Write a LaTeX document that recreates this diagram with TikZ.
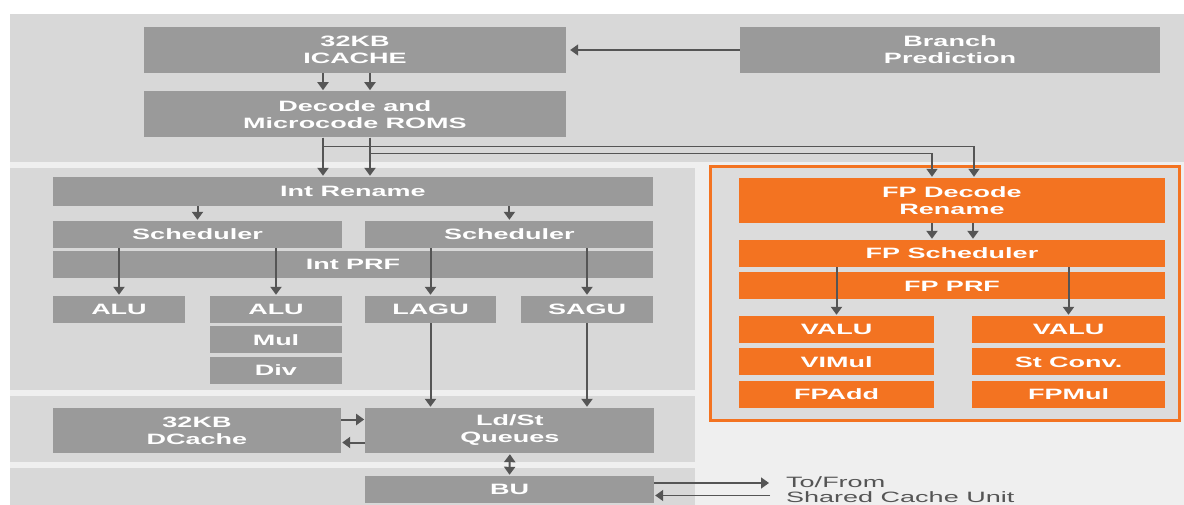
\documentclass[tikz,border=0pt]{standalone}
\usepackage{fontspec}
\setmainfont{Liberation Sans}[FakeStretch=1.8]
\usepackage{tikz}
\usetikzlibrary{%
  positioning
 ,arrows.meta
}
\definecolor{bandgray}{RGB}{216,216,216}
\definecolor{sepgray}{RGB}{239,239,239}
\definecolor{blkgray}{RGB}{154,154,154}
\definecolor{fporange}{RGB}{243,115,33}
\definecolor{wiregray}{RGB}{85,85,85}
\tikzstyle{core}=[x=1pt,y=-1pt,node distance=3pt,>={Triangle[length=8pt,width=11pt]},
  font=\bfseries\fontsize{15}{17}\selectfont]
\tikzstyle{blk}=[rectangle,fill=blkgray,text=white,align=center,inner sep=0pt,minimum height=27pt]
\tikzstyle{tall}=[minimum height=46pt]
\tikzstyle{fpblk}=[blk,fill=fporange]
\tikzstyle{conn}=[color=wiregray,line width=2pt,->,shorten >=1pt]
\tikzstyle{thin}=[line width=1.5pt]

\begin{document}
\begin{tikzpicture}[core]
  \useasboundingbox (0,0) rectangle (1184,505);
  % bands behind the blocks
  \fill[sepgray]  (10,14)  rectangle (1184,505);
  \fill[bandgray] (10,14)  rectangle (1184,162);
  \fill[bandgray] (10,168) rectangle (695,390);
  \fill[bandgray] (10,396) rectangle (695,462);
  \fill[bandgray] (10,468) rectangle (695,505);
  \filldraw[fill=bandgray!90!white,draw=fporange,line width=3pt] (710,167) rectangle (1179,420);
% front end
  \node[blk,tall,minimum width=422pt] (icache) at (355,50) {32KB\\ICACHE};
  \node[blk,tall,minimum width=420pt] (bp)     at (950,50) {Branch\\Prediction};
  \node[blk,tall,minimum width=422pt] (dec)    [below=18pt of icache] {Decode and\\Microcode ROMS};
% integer side
  \node[blk,minimum height=29pt,minimum width=600pt] (irn) at (353,191.5) {Int Rename};
  \node[blk,minimum width=289pt] (sch_1) at (197.5,234.5)    {Scheduler};
  \node[blk,minimum width=288pt] (sch_2) [right=23pt of sch_1] {Scheduler};
  \node[blk,minimum width=600pt] (iprf)  at (353,264.5)      {Int PRF};
  \node[blk,minimum width=132pt] (alu_1) at (119,309.5)      {ALU};
  \node[blk,minimum width=132pt] (alu_2) at (276,309.5)      {ALU};
  \node[blk,minimum width=131pt] (lagu)  at (430.5,309.5)    {LAGU};
  \node[blk,minimum width=132pt] (sagu)  at (587,309.5)      {SAGU};
  \node[blk,minimum width=132pt] (mul)   [below=of alu_2]    {Mul};
  \node[blk,minimum width=132pt] (div)   [below=of mul]      {Div};
% load/store and bus
  \node[blk,minimum width=288pt,minimum height=45pt] (dcache) at (197,430.5) {32KB\\DCache};
  \node[blk,minimum width=289pt,minimum height=45pt] (ldst) [right=24pt of dcache] {Ld/St\\Queues};
  \node[blk,minimum width=289pt] (bu) at (509.5,489.5) {BU};
  \coordinate (scu_in) at (770,489.5);
  \node[anchor=west,align=left,inner sep=0pt,text=wiregray,font=\fontsize{15}{15}\selectfont]
    (scu) at (786,489.5) {To/From\\Shared Cache Unit};
% floating point side
  \node[fpblk,minimum width=426pt,minimum height=45pt] (fpdec) at (952,200.5) {FP Decode\\Rename};
  \node[fpblk,minimum width=426pt] (fpsch)  at (952,253.5)          {FP Scheduler};
  \node[fpblk,minimum width=426pt] (fpprf)  [below=5pt of fpsch]    {FP PRF};
  \node[fpblk,minimum width=195pt] (valu_1) at (836.5,329.5)        {VALU};
  \node[fpblk,minimum width=193pt] (valu_2) at (1068.5,329.5)       {VALU};
  \node[fpblk,minimum width=195pt] (vimul)  [below=5pt of valu_1]   {VIMul};
  \node[fpblk,minimum width=195pt] (fpadd)  [below=5pt of vimul]    {FPAdd};
  \node[fpblk,minimum width=193pt] (stconv) [below=5pt of valu_2]   {St Conv.};
  \node[fpblk,minimum width=193pt] (fpmul)  [below=5pt of stconv]   {FPMul};
%
  \coordinate (d_l) at ([xshift=-32pt]dec.south);
  \coordinate (d_r) at ([xshift=15pt]dec.south);
  \path[conn]
  (bp) edge[thin,shorten >=4pt] (icache)
  ([xshift=-32pt]icache.south) edge ([xshift=-32pt]dec.north)
  ([xshift=15pt]icache.south)  edge ([xshift=15pt]dec.north)
  (d_l) edge (d_l |- irn.north)
  (d_r) edge (d_r |- irn.north)
  (irn.south -| sch_1) edge (sch_1.north)
  (irn.south -| sch_2) edge (sch_2.north)
  (sch_1.south -| alu_1) edge (alu_1.north)
  (sch_1.south -| alu_2) edge (alu_2.north)
  (sch_2.south -| lagu)  edge (lagu.north)
  (sch_2.south -| sagu)  edge (sagu.north)
  (lagu.south) edge (lagu.south |- ldst.north)
  (sagu.south) edge (sagu.south |- ldst.north)
  ([yshift=11pt]dcache.east) edge ([yshift=11pt]ldst.west)
  ([yshift=-12pt]ldst.west)  edge ([yshift=-12pt]dcache.east)
  (ldst.south) edge[<->,shorten <=1pt] (bu.north)
  ([yshift=6.5pt]bu.east)    edge[thin] ([yshift=6.5pt]scu_in)
  ([yshift=-6pt]scu_in)      edge[thin] ([yshift=-6pt]bu.east)
  ([xshift=-20pt]fpdec.south) edge ([xshift=-20pt]fpsch.north)
  ([xshift=21pt]fpdec.south)  edge ([xshift=21pt]fpsch.north)
  (fpsch.south -| valu_1) edge (valu_1.north)
  (fpsch.south -| valu_2) edge (valu_2.north);
  \draw[conn,thin] (d_l) -- ++(0,9)  -| ([xshift=22pt]fpdec.north);
  \draw[conn,thin] (d_r) -- ++(0,16) -| ([xshift=-20pt]fpdec.north);
\end{tikzpicture}
\end{document}
